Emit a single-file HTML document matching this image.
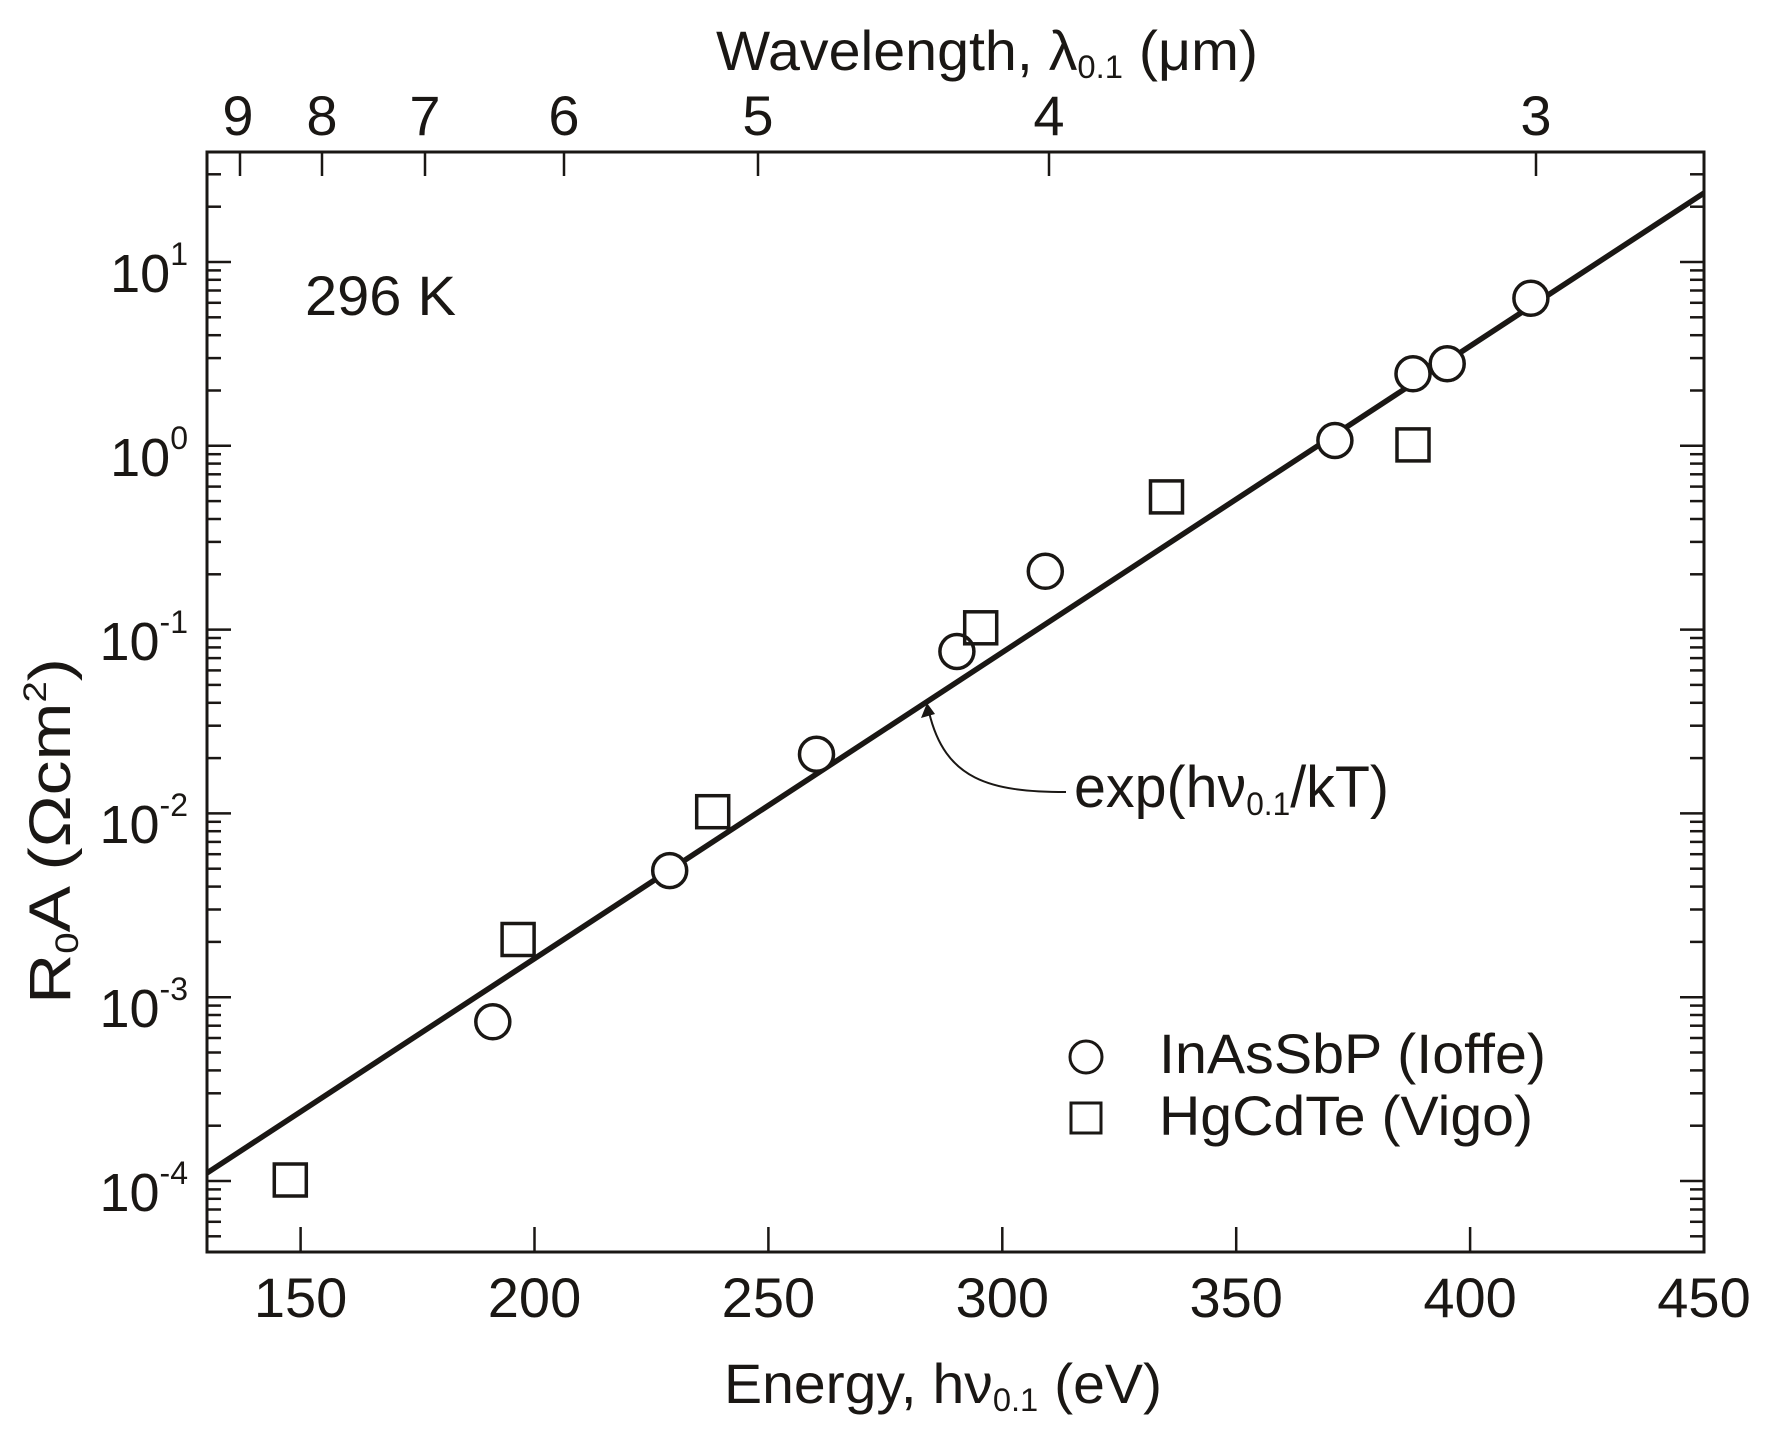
<!DOCTYPE html>
<html><head><meta charset="utf-8"><style>
html,body{margin:0;padding:0;background:#fff}
svg{display:block}
text{font-family:"Liberation Sans",Arial,sans-serif;fill:#1a1714}
</style></head><body>
<svg width="1773" height="1440" viewBox="0 0 1773 1440" xmlns="http://www.w3.org/2000/svg">
<defs>
<clipPath id="pc"><rect x="207" y="152" width="1497" height="1100"/></clipPath>
<g id="mn">
<line x1="207" x2="221" y1="-55.3" y2="-55.3"/><line x1="207" x2="221" y1="-87.7" y2="-87.7"/>
<line x1="207" x2="221" y1="-110.6" y2="-110.6"/><line x1="207" x2="221" y1="-128.5" y2="-128.5"/>
<line x1="207" x2="221" y1="-143" y2="-143"/><line x1="207" x2="221" y1="-155.3" y2="-155.3"/>
<line x1="207" x2="221" y1="-166" y2="-166"/><line x1="207" x2="221" y1="-175.4" y2="-175.4"/>
<line x1="1690" x2="1704" y1="-55.3" y2="-55.3"/><line x1="1690" x2="1704" y1="-87.7" y2="-87.7"/>
<line x1="1690" x2="1704" y1="-110.6" y2="-110.6"/><line x1="1690" x2="1704" y1="-128.5" y2="-128.5"/>
<line x1="1690" x2="1704" y1="-143" y2="-143"/><line x1="1690" x2="1704" y1="-155.3" y2="-155.3"/>
<line x1="1690" x2="1704" y1="-166" y2="-166"/><line x1="1690" x2="1704" y1="-175.4" y2="-175.4"/>
<line x1="207" x2="231" y1="0" y2="0"/><line x1="1680" x2="1704" y1="0" y2="0"/>
</g>
</defs>
<g stroke="#1a1714" stroke-width="2.5" clip-path="url(#pc)">
<use href="#mn" y="1364.8"/><use href="#mn" y="1181"/><use href="#mn" y="997.2"/>
<use href="#mn" y="813.4"/><use href="#mn" y="629.6"/><use href="#mn" y="445.8"/>
<use href="#mn" y="262"/><use href="#mn" y="78.2"/>
</g>
<rect x="207" y="152" width="1497" height="1100" fill="none" stroke="#1a1714" stroke-width="3"/>
<g stroke="#1a1714" stroke-width="2.5">
<line x1="300.6" x2="300.6" y1="1252" y2="1227"/><line x1="534.5" x2="534.5" y1="1252" y2="1227"/>
<line x1="768.4" x2="768.4" y1="1252" y2="1227"/><line x1="1002.3" x2="1002.3" y1="1252" y2="1227"/>
<line x1="1236.2" x2="1236.2" y1="1252" y2="1227"/><line x1="1470.1" x2="1470.1" y1="1252" y2="1227"/>
<line x1="240" x2="240" y1="152" y2="176"/><line x1="322" x2="322" y1="152" y2="176"/>
<line x1="425" x2="425" y1="152" y2="176"/><line x1="564" x2="564" y1="152" y2="176"/>
<line x1="758" x2="758" y1="152" y2="176"/><line x1="1049" x2="1049" y1="152" y2="176"/>
<line x1="1536" x2="1536" y1="152" y2="176"/>
</g>
<line x1="207" y1="1173" x2="1704" y2="193" stroke="#1a1714" stroke-width="5.5" clip-path="url(#pc)"/>
<g fill="#fff" stroke="#1a1714" stroke-width="3.5">
<circle cx="492.8" cy="1021.8" r="17"/><circle cx="669.7" cy="870.6" r="17"/>
<circle cx="816.5" cy="754.2" r="17"/><circle cx="956.9" cy="651.5" r="17"/>
<circle cx="1045.3" cy="571.3" r="17"/><circle cx="1334.9" cy="440.5" r="17"/>
<circle cx="1413" cy="373.8" r="17"/><circle cx="1447.2" cy="363.7" r="17"/>
<circle cx="1530.9" cy="298.2" r="17"/>
</g>
<g fill="none" stroke="#1a1714" stroke-width="3.5">
<rect x="274.3" y="1164" width="32" height="32"/><rect x="502.1" y="923.5" width="32" height="32"/>
<rect x="696.7" y="795.7" width="32" height="32"/><rect x="964.7" y="611.8" width="32" height="32"/>
<rect x="1150.5" y="480.9" width="32" height="32"/><rect x="1397" y="428.9" width="32" height="32"/>
<circle cx="1086" cy="1057" r="16" stroke-width="3"/><rect x="1071" y="1103" width="30" height="30" stroke-width="3"/>
</g>
<path d="M1066,792 C990,792 945,780 929,712" fill="none" stroke="#1a1714" stroke-width="2"/>
<polygon points="927,703 921,718 935,714" fill="#1a1714"/>
<g font-size="56" text-anchor="middle">
<text x="300.6" y="1317">150</text><text x="534.5" y="1317">200</text><text x="768.4" y="1317">250</text>
<text x="1002.3" y="1317">300</text><text x="1236.2" y="1317">350</text><text x="1470.1" y="1317">400</text>
<text x="1704" y="1317">450</text>
<text x="238" y="135">9</text><text x="322" y="135">8</text><text x="425" y="135">7</text>
<text x="564" y="135">6</text><text x="758" y="135">5</text><text x="1049" y="135">4</text>
<text x="1536" y="135">3</text>
</g>
<g font-size="54" text-anchor="end">
<text x="188" y="292">10<tspan font-size="32" dy="-27">1</tspan></text>
<text x="188" y="476">10<tspan font-size="32" dy="-27">0</tspan></text>
<text x="188" y="660">10<tspan font-size="32" dy="-27">-1</tspan></text>
<text x="188" y="843">10<tspan font-size="32" dy="-27">-2</tspan></text>
<text x="188" y="1027">10<tspan font-size="32" dy="-27">-3</tspan></text>
<text x="188" y="1211">10<tspan font-size="32" dy="-27">-4</tspan></text>
</g>
<text x="305" y="315" font-size="56" textLength="151" lengthAdjust="spacingAndGlyphs">296 K</text>
<text x="1074" y="807" font-size="58" textLength="315" lengthAdjust="spacingAndGlyphs">exp(hν<tspan font-size="32" dy="8">0.1</tspan><tspan dy="-8">/kT)</tspan></text>
<text x="1159" y="1073" font-size="56" textLength="387" lengthAdjust="spacingAndGlyphs">InAsSbP (Ioffe)</text>
<text x="1159" y="1135" font-size="56" textLength="374" lengthAdjust="spacingAndGlyphs">HgCdTe (Vigo)</text>
<text x="724" y="1403" font-size="56" textLength="438" lengthAdjust="spacingAndGlyphs">Energy, hν<tspan font-size="32" dy="8">0.1</tspan><tspan dy="-8"> (eV)</tspan></text>
<text x="716" y="70" font-size="56" textLength="542" lengthAdjust="spacingAndGlyphs">Wavelength, λ<tspan font-size="32" dy="8">0.1</tspan><tspan dy="-8"> (μm)</tspan></text>
<text transform="translate(70,1004) rotate(-90)" font-size="58" textLength="346" lengthAdjust="spacingAndGlyphs">R<tspan font-size="32" dy="8">0</tspan><tspan dy="-8">A (Ωcm</tspan><tspan font-size="32" dy="-24">2</tspan><tspan dy="24">)</tspan></text>
</svg>
</body></html>
